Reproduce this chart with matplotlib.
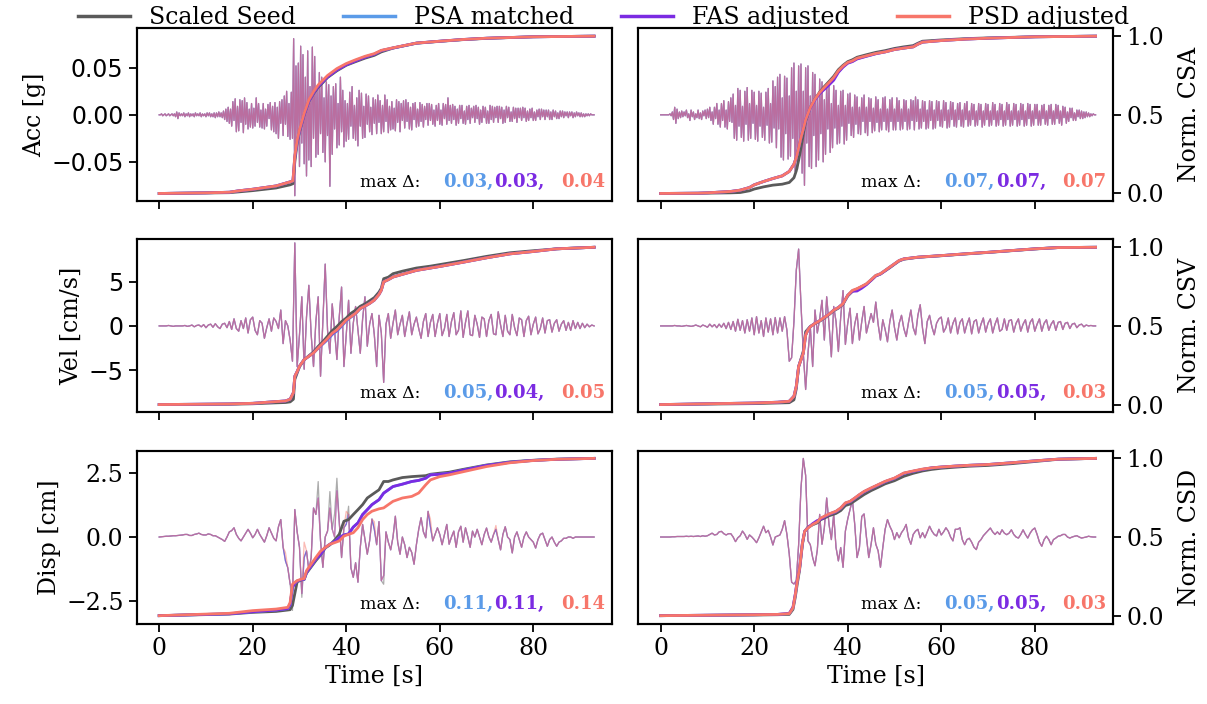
# -*- coding: utf-8 -*-
# Scaled seed vs. matched records: time histories with normalised cumulative curves
import matplotlib.pyplot as plt
import numpy as np
from matplotlib.lines import Line2D

plt.rcParams['font.family'] = 'DejaVu Serif'
plt.rcParams['font.size'] = 17

# ---------------------------------------------------------
# series / colours
# ---------------------------------------------------------
series = ["Scaled Seed", "PSA matched", "FAS adjusted", "PSD adjusted"]
colors = ["#5a5a5a", "#5b9be8", "#7b2be2", "#f7766a"]
T_END = 93.0

# ---------------------------------------------------------
# time histories (uniform sampling 0..93 s)
# acceleration in mg, 0.25 s step
# ---------------------------------------------------------
acc_left = [
    0, 0, 1, -1, 0, 1, -1, 0, 1, -1, 0, 1, -1, 1, -2, 3, -4, 2, -1, 1,
    -1, 2, -2, 1, -1, 2, -2, 1, -1, 1, -2, 2, -1, 1, -1, 2, -2, 1, -1, 1,
    -2, 2, -1, 2, -2, 1, -2, 2, -3, 2, -2, 3, -2, 2, -3, 4, -5, 6, -7, 8,
    -9, 6, -12, 14, -6, 17, -18, 9, -17, 16, -8, 15, -19, 18, -10, 13, -15, 6, -13, 12,
    -14, 7, -12, 18, -8, 12, -13, 5, -14, 12, -15, 6, -12, 11, -4, 13, -16, 9, -18, 13,
    -20, 8, -25, 14, -9, 16, -22, 20, -10, 25, -23, 12, -26, 24, -25, 81, -86, 52, -30, 55,
    -55, 73, -30, 64, -52, 40, -65, 68, -48, 30, -55, 72, -25, 62, -45, 30, -42, 45, -20, 40,
    -40, 18, -50, 35, -22, 32, -76, 20, -42, 30, -15, 33, -35, 12, -32, 40, -18, 26, -34, 15,
    -28, 12, -26, 24, -12, 30, -25, 10, -27, 18, -33, 26, -12, 23, -25, 9, -24, 22, -10, 20,
    -18, 8, -21, 18, -9, 16, -20, 21, -8, 15, -20, 10, -18, 21, -7, 16, -19, 9, -16, 14,
    -15, 7, -17, 16, -8, 14, -18, 12, -6, 15, -14, 16, -7, 13, -15, 8, -16, 12, -5, 13,
    -13, 6, -12, 13, -7, 11, -13, 9, -5, 12, -11, 12, -6, 11, -10, 5, -12, 10, -6, 12,
    -10, 5, -11, 12, -4, 11, -10, 18, -6, 10, -9, 11, -5, 9, -11, 6, -9, 10, -4, 10,
    -9, 4, -10, 9, -5, 10, -9, 7, -3, 9, -8, 10, -4, 8, -10, 5, -8, 9, -3, 8,
    -9, 4, -9, 10, -5, 9, -8, 8, -3, 9, -8, 9, -4, 8, -9, 5, -8, 9, -3, 8,
    -7, 3, -7, 8, -4, 7, -8, 7, -3, 7, -6, 8, -3, 7, -7, 4, -6, 6, -3, 7,
    -6, 3, -6, 5, -2, 6, -5, 6, -2, 5, -5, 5, -2, 5, -5, 3, -5, 5, -2, 4,
    -4, 2, -4, 4, -2, 4, -3, 3, -1, 3, -3, 3, -1, 3, -3, 2, -2, 3, -1, 2,
    -2, 2, -2, 1, -2, 1, -1, 1, -1, 1, 0, 0, 0,
]
acc_right = [
    0, 0, 0, 0, 0, 0, 0, 0, 1, -1, 3, -5, 8, -9, 6, -4, 3, -3, 4, -2,
    3, -1, 5, -3, 1, -6, 5, -2, 3, -5, 1, -3, 5, -4, 2, -5, 4, -1, 5, -4,
    6, -3, 8, -6, 3, -10, 8, -4, 12, -10, 5, -13, 12, -6, 15, -13, 5, -15, 14, -7,
    18, -8, 22, -25, 10, -27, 28, -12, 26, -24, 9, -28, 25, -10, 29, -27, 12, -25, 26, -9,
    24, -26, 10, -28, 25, -12, 23, -24, 8, -27, 24, -11, 28, -30, 12, -29, 36, -14, 30, -35,
    40, -15, 43, -45, 18, -48, 41, -20, 39, -47, 20, -44, 50, -25, 55, -60, 25, -58, 52, -30,
    54, -62, 25, -75, 50, -30, 52, -55, 20, -57, 45, -22, 43, -55, 18, -48, 38, -20, 35, -50,
    16, -42, 33, -15, 30, -40, 12, -35, 31, -14, 26, -31, 10, -30, 25, -12, 26, -31, 10, -27,
    22, -9, 23, -22, 8, -24, 21, -10, 19, -20, 8, -21, 18, -7, 21, -19, 8, -22, 18, -7,
    17, -19, 7, -17, 19, -8, 16, -18, 6, -16, 18, -7, 19, -16, 6, -18, 16, -7, 18, -16,
    6, -16, 18, -7, 15, -16, 6, -15, 16, -7, 15, -16, 6, -15, 16, -6, 15, -16, 19, -7,
    16, -15, 6, -14, 15, -7, 14, -15, 5, -14, 15, -6, 14, -15, 5, -14, 15, -6, 14, -12,
    5, -13, 15, -6, 13, -14, 5, -13, 14, -5, 13, -12, 5, -13, 12, -5, 13, -12, 5, -13,
    12, -5, 14, -12, 4, -11, 12, -5, 11, -12, 4, -11, 12, -5, 11, -13, 4, -11, 12, -5,
    11, -12, 4, -11, 13, -5, 11, -12, 4, -11, 12, -5, 11, -12, 4, -11, 13, -5, 11, -12,
    4, -11, 12, -5, 11, -12, 4, -11, 12, -5, 11, -12, 4, -11, 12, -4, 11, -12, 4, -11,
    11, -4, 11, -11, 4, -11, 10, -4, 11, -10, 4, -11, 10, -4, 11, -10, 4, -10, 11, -4,
    10, -9, 4, -11, 9, -3, 8, -9, 3, -7, 7, -3, 7, -6, 2, -6, 5, -2, 5, -4,
    4, -4, 3, -3, 3, -2, 2, -2, 1, -1, 1, 0, 0,
]

# velocity in cm/s, 0.5 s step
vel_left = [
    0, 0, 0, 0, 0.05, 0, -0.05, 0, 0, 0,
    0, 0.05, -0.05, 0, 0.1, -0.1, 0.05, 0.1, -0.1, 0.15,
    -0.2, 0.1, 0.2, -0.15, 0.25, -0.1, -0.3, 0.2, 0.3, -0.2,
    0.5, -0.4, 0.8, -0.3, -0.6, 0.6, -0.3, 0.9, -0.8, 0.7,
    1.0, -0.5, -1.0, 0.6, 0.3, -1.4, -0.2, 0.8, -0.6, 0.9,
    0.5, -0.3, 1.8, -2.0, 0.6, 0.0, -1.6, -4.0, 9.4, -4.6,
    -1.0, 3.3, -4.9, 1.0, 4.6, -1.0, -4.6, 0.5, 3.3, -5.7,
    0.5, 7.0, -0.5, -3.1, 2.5, -0.5, -3.8, 1.0, 4.4, -4.6,
    -1.0, 2.9, -3.1, 0.3, 2.2, -0.5, -3.1, 0.8, 3.3, -2.3,
    0.2, 1.4, -1.0, -4.6, 1.2, -0.8, -6.4, 0.2, 1.4, -1.4,
    0.3, 1.8, -1.0, 0.2, 1.2, -1.2, 0.3, 1.6, -1.0, 0.2,
    1.0, -0.3, -1.4, 0.5, 1.4, -1.2, 0.4, 1.3, -1.2, 0.3,
    1.4, -1.1, -0.3, 1.3, -1.2, 0.5, 1.5, -1.0, -0.5, 1.7,
    -1.3, 0.4, 1.7, -1.0, -1.1, 1.2, 0.2, -1.3, 1.0, 0.8,
    -1.2, 0.6, 1.3, -0.9, -1.0, 1.6, 0.1, -1.2, 1.2, -0.6,
    -1.0, 1.3, -0.2, -1.1, 0.9, 0.7, -1.2, 0.6, 1.1, -1.0,
    0.2, 1.0, -0.9, -0.3, 0.9, -0.8, 0.6, 0.7, -0.7, 0.3,
    0.7, -0.6, 0.2, 0.6, -0.5, 0.4, -0.5, 0.6, -0.3, 0.4,
    -0.3, 0.3, -0.2, 0.2, -0.1, 0.1, 0.0,
]
vel_right = [
    0, 0, 0, 0, 0, 0, 0.05, 0, 0, -0.05,
    0, 0.05, 0, -0.05, 0, 0.1, 0, -0.1, 0.1, 0,
    -0.15, 0.2, -0.1, 0.15, -0.2, 0.2, -0.15, 0.3, -0.3, 0.4,
    -0.4, 0.5, -0.6, 0.75, -0.5, 0.6, -0.8, 0.7, -0.6, 0.9,
    -1.0, 1.05, -0.8, 0.6, -1.2, 0.9, -0.7, 0.8, -1.0, 0.95,
    -0.8, 0.9, -0.6, 1.05, -0.5, -4.0, -3.6, 0.5, 6.3, 8.7,
    2.5, -3.1, -7.2, -3.1, -0.1, -4.6, 1.8, -0.8, 0.8, 2.9,
    -1.6, 3.3, 0.2, -3.5, 2.2, 0.5, -2.9, 1.0, 4.0, -2.1,
    0.3, 2.0, -2.0, 0.2, 1.4, -1.6, 0.5, 2.2, -0.8, 0.3,
    1.4, 0.4, 2.7, 0.2, -1.6, 0.7, -0.4, -1.8, 0.5, 1.8,
    -0.2, -1.6, 0.3, 1.2, -0.3, -1.2, 0.4, 1.8, -0.2, -1.0,
    1.2, 2.4, -0.3, -2.0, 0.5, 1.2, -0.1, -1.0, 0.3, 0.8,
    1.0, -0.7, -0.2, 0.9, -0.8, 0.3, 0.9, -0.9, 0.4, 0.8,
    -0.8, 0.2, 0.9, -0.9, 0.5, 0.7, -0.8, 0.2, 0.9, -0.7,
    0.3, 0.8, -0.8, 0.2, 0.9, -0.6, -0.4, 0.8, -0.5, 0.6,
    0.7, -0.7, 0.3, 0.8, -0.6, 0.2, 0.7, -0.7, 0.4, 0.8,
    -0.6, 0.2, 0.8, -0.6, 0.3, 0.7, -0.5, 0.2, 0.6, -0.5,
    0.4, 0.5, -0.4, 0.3, 0.4, -0.3, 0.2, 0.3, -0.2, 0.1,
    0.2, -0.1, 0.1, 0.0, 0.05, 0.0, 0.0,
]

# displacement in cm, 0.5 s step
disp_left = [
    0, 0.01, 0.02, 0.03, 0.03, 0.04, 0.05, 0.05, 0.06, 0.07,
    0.08, 0.1, 0.1, 0.06, 0.06, 0.1, 0.12, 0.15, 0.1, 0.08,
    0.08, 0.12, 0.1, 0.05, 0.05, 0.0, -0.05, -0.1, -0.17, 0.0,
    0.2, 0.25, 0.36, 0.1, -0.05, -0.15, 0.0, 0.15, 0.3, 0.15,
    -0.03, 0.1, 0.3, 0.1, -0.05, -0.2, 0.05, 0.36, 0.15, -0.05,
    -0.15, 0.4, 0.68, -0.4, -0.93, -1.2, -1.83, -2.1, 1.07, 0.2,
    -0.4, -2.2, -0.8, -0.54, -1.3, -0.8, 1.13, 0.88, 1.52, -0.15,
    -1.18, 0.0, 0.23, 1.13, 0.3, 0.0, 1.8, 0.6, -0.8, 0.36,
    0.5, 0.88, -1.2, -1.57, -1.0, -1.76, -0.4, 0.49, -0.1, -0.67,
    -0.15, 0.7, 0.3, -0.3, 0.6, -1.7, -1.5, 0.2, -0.2, -0.5,
    0.0, 0.81, -0.2, -0.67, 0.0, -0.3, -0.8, -0.4, -0.6, -1.06,
    -0.3, 0.3, 0.75, 0.2, -0.03, 1.0, 0.4, -0.15, 0.1, 0.36,
    0.1, -0.3, 0.1, 0.49, -0.28, 0.0, 0.23, -0.4, 0.2, 0.42,
    -0.2, 0.36, 0.0, -0.4, 0.23, 0.0, 0.3, 0.0, -0.3, 0.1,
    0.35, 0.0, -0.2, 0.1, 0.3, -0.1, -0.5, 0.1, 0.4, 0.0,
    -0.1, -0.62, 0.0, 0.2, -0.1, -0.4, 0.0, 0.2, 0.0, -0.1,
    -0.2, -0.43, -0.1, 0.1, 0.15, -0.1, -0.36, -0.1, 0.0, -0.2,
    -0.36, -0.2, -0.15, -0.05, -0.05, 0.0, 0.0, -0.05, 0.0, 0.0,
    0.0, 0.0, 0.0, 0.0, 0.0, 0.0, 0.0,
]
# where the individual records part from the common trace (time s: value cm)
disp_left_seed_peaks = {28.5: -2.86, 30.5: -2.35, 34.0: 2.16, 36.5: 1.77,
                        37.5: 0.9, 38.0: 2.29, 40.5: 1.2, 48.0: -1.84}
disp_left_psd_peaks = {27.0: -0.6, 31.0: -0.2, 40.0: 1.0, 46.0: 0.6,
                       58.0: 0.7, 72.0: 0.45}
disp_right = [
    0, 0, 0, 0, 0, 0.01, 0.01, 0.02, 0.02, 0.02,
    0.02, 0.03, 0.02, 0.03, 0.02, 0.03, 0.04, 0.02, 0.05, 0.03,
    0.05, 0.1, 0.15, 0.08, 0.1, 0.2, 0.22, 0.13, 0.08, 0.13,
    0.13, 0.0, -0.18, -0.03, 0.05, 0.23, 0.1, -0.09, 0.08, 0.0,
    -0.1, -0.22, -0.03, 0.2, 0.42, 0.17, 0.26, 0.0, -0.31, 0.0,
    0.04, 0.08, 0.3, 0.64, 0.1, -0.67, -1.76, -1.83, -1.7, -0.3,
    1.9, 3.06, 2.4, -0.15, -0.3, -0.8, -1.12, -0.5, 0.88, -0.28,
    0.36, 1.52, 0.49, -0.1, 0.88, -0.41, -0.93, -0.41, -1.18, 0.23,
    0.7, 1.07, 1.45, 0.49, -0.8, -0.41, 0.8, 0.9, 0.0, -0.8,
    -0.28, 0.36, -0.28, -0.54, -1.18, -0.41, 0.3, 0.68, 0.42, 0.23,
    -0.1, 0.17, -0.03, 0.17, 0.3, 0.49, -0.03, -0.28, 0.1, 0.23,
    0.3, -0.03, 0.17, -0.03, 0.2, 0.42, 0.23, 0.1, 0.04, 0.3,
    0.08, 0.2, 0.36, 0.23, 0.0, -0.15, 0.3, 0.3, 0.36, -0.1,
    -0.3, -0.1, -0.05, -0.2, -0.4, -0.49, -0.2, -0.1, 0.05, 0.15,
    0.25, 0.35, 0.2, 0.1, 0.2, 0.1, 0.28, 0.15, 0.09, 0.15,
    0.28, 0.1, 0.0, -0.04, 0.1, 0.28, 0.1, -0.04, 0.15, 0.28,
    0.35, 0.1, -0.2, -0.36, -0.1, 0.03, -0.1, -0.3, -0.1, -0.04,
    0.03, 0.05, 0.1, 0.1, 0.0, -0.04, 0.0, 0.03, 0.05, 0.0,
    -0.04, -0.02, 0.0, 0.03, 0.01, 0.0, 0.0,
]

# ---------------------------------------------------------
# normalised cumulative curves (knot times + values per record)
# ---------------------------------------------------------
csa_l_t = [0, 10, 15, 17, 20, 25, 28, 28.6, 29, 29.5, 30, 31, 32, 33, 34, 35, 36, 38, 40, 42,
           44, 46, 47.5, 50, 55, 60, 65, 70, 80, 93]
csa_l_seed = [0, 0.003, 0.005, 0.01, 0.018, 0.035, 0.055, 0.062, 0.2, 0.32, 0.39, 0.5, 0.585, 0.635,
              0.675, 0.705, 0.737, 0.78, 0.815, 0.838, 0.86, 0.878, 0.9, 0.924, 0.955, 0.967, 0.978,
              0.986, 0.996, 1.0]
csa_l_psa = [0, 0.004, 0.008, 0.017, 0.027, 0.048, 0.074, 0.08, 0.235, 0.335, 0.4, 0.505, 0.59, 0.642,
             0.684, 0.714, 0.744, 0.787, 0.82, 0.845, 0.868, 0.886, 0.908, 0.925, 0.956, 0.968, 0.979,
             0.987, 0.996, 1.0]
csa_l_fas = [0, 0.004, 0.008, 0.017, 0.027, 0.048, 0.074, 0.08, 0.23, 0.33, 0.398, 0.503, 0.588, 0.64,
             0.681, 0.711, 0.741, 0.785, 0.818, 0.843, 0.866, 0.885, 0.908, 0.925, 0.956, 0.968, 0.979,
             0.987, 0.996, 1.0]
csa_l_psd = [0, 0.004, 0.008, 0.017, 0.027, 0.048, 0.074, 0.08, 0.24, 0.34, 0.405, 0.51, 0.595, 0.647,
             0.69, 0.72, 0.75, 0.794, 0.826, 0.85, 0.872, 0.889, 0.91, 0.926, 0.956, 0.968, 0.979,
             0.987, 0.996, 1.0]

csa_r_t = [0, 8, 10, 15, 17, 19, 20, 22, 24, 26, 27.5, 28.5, 29, 29.5, 30, 30.5, 31, 32, 33, 34,
           35, 36, 37, 38, 39, 40, 41, 42, 44, 46, 48, 50, 52, 54, 55, 56, 60, 65, 70, 80, 93]
csa_r_seed = [0, 0.001, 0.002, 0.004, 0.006, 0.017, 0.028, 0.042, 0.053, 0.059, 0.07, 0.10, 0.144,
              0.21, 0.29, 0.377, 0.46, 0.547, 0.6, 0.645, 0.68, 0.712, 0.745, 0.787, 0.815, 0.838,
              0.85, 0.866, 0.882, 0.897, 0.908, 0.922, 0.932, 0.94, 0.955, 0.968, 0.976, 0.984,
              0.989, 0.996, 1.0]
csa_r_psa = [0, 0.002, 0.004, 0.013, 0.021, 0.038, 0.055, 0.076, 0.095, 0.112, 0.14, 0.186, 0.229,
             0.29, 0.356, 0.41, 0.47, 0.545, 0.597, 0.638, 0.668, 0.698, 0.73, 0.775, 0.806, 0.83,
             0.84, 0.857, 0.873, 0.889, 0.9, 0.915, 0.924, 0.932, 0.949, 0.962, 0.972, 0.981,
             0.987, 0.996, 1.0]
csa_r_fas = [0, 0.002, 0.004, 0.013, 0.021, 0.038, 0.055, 0.076, 0.095, 0.112, 0.14, 0.186, 0.229,
             0.29, 0.356, 0.41, 0.47, 0.545, 0.595, 0.635, 0.662, 0.69, 0.72, 0.77, 0.803, 0.828,
             0.838, 0.855, 0.872, 0.888, 0.9, 0.915, 0.924, 0.932, 0.949, 0.962, 0.972, 0.981,
             0.987, 0.996, 1.0]
csa_r_psd = [0, 0.002, 0.004, 0.013, 0.021, 0.038, 0.055, 0.076, 0.095, 0.112, 0.14, 0.186, 0.229,
             0.29, 0.356, 0.41, 0.47, 0.547, 0.6, 0.642, 0.674, 0.705, 0.737, 0.78, 0.81, 0.833,
             0.843, 0.86, 0.875, 0.89, 0.9, 0.915, 0.924, 0.932, 0.949, 0.962, 0.972, 0.981,
             0.987, 0.996, 1.0]

csv_l_t = [0, 15, 20, 25, 27, 28, 28.7, 29, 29.5, 30, 31, 32, 33, 34, 35, 36, 37, 38, 39, 40,
           41, 42, 43, 44, 45, 46, 47, 47.5, 48, 49, 50, 52, 55, 58, 60, 65, 70, 75, 80, 85, 93]
csv_l_seed = [0, 0.002, 0.005, 0.011, 0.013, 0.017, 0.034, 0.16, 0.2, 0.24, 0.285, 0.31, 0.335, 0.37,
              0.4, 0.435, 0.47, 0.496, 0.527, 0.55, 0.58, 0.6, 0.625, 0.64, 0.66, 0.68, 0.715, 0.74,
              0.80, 0.81, 0.832, 0.848, 0.868, 0.88, 0.89, 0.915, 0.942, 0.965, 0.978, 0.99, 1.0]
csv_l_psa = [0, 0.004, 0.008, 0.019, 0.023, 0.034, 0.076, 0.18, 0.21, 0.244, 0.286, 0.307, 0.328,
             0.358, 0.385, 0.412, 0.445, 0.467, 0.498, 0.532, 0.556, 0.578, 0.61, 0.625, 0.643,
             0.664, 0.70, 0.727, 0.78, 0.794, 0.811, 0.828, 0.853, 0.868, 0.878, 0.905, 0.933,
             0.958, 0.973, 0.99, 1.0]
csv_l_fas = [0, 0.004, 0.008, 0.019, 0.023, 0.034, 0.076, 0.18, 0.21, 0.244, 0.286, 0.307, 0.328,
             0.36, 0.388, 0.417, 0.45, 0.472, 0.503, 0.536, 0.558, 0.58, 0.611, 0.626, 0.643,
             0.664, 0.70, 0.727, 0.78, 0.794, 0.811, 0.828, 0.853, 0.868, 0.878, 0.905, 0.933,
             0.958, 0.973, 0.99, 1.0]
csv_l_psd = [0, 0.004, 0.008, 0.019, 0.023, 0.034, 0.076, 0.18, 0.21, 0.244, 0.286, 0.307, 0.328,
             0.36, 0.39, 0.42, 0.454, 0.475, 0.506, 0.538, 0.559, 0.58, 0.611, 0.626, 0.643,
             0.664, 0.70, 0.727, 0.78, 0.794, 0.811, 0.828, 0.853, 0.868, 0.878, 0.905, 0.933,
             0.958, 0.973, 0.99, 1.0]

csv_r_t = [0, 20, 25, 27.5, 28.5, 29, 29.5, 30, 30.5, 31, 31.5, 32, 33, 34, 35, 36, 37, 38, 39, 40,
           41, 42, 43, 44, 45, 46, 47, 48, 49, 50, 51, 52, 55, 60, 65, 70, 75, 80, 85, 93]
csv_r_seed = [0, 0.006, 0.01, 0.012, 0.03, 0.1, 0.24, 0.29, 0.34, 0.463, 0.48, 0.497, 0.515, 0.53,
              0.55, 0.572, 0.596, 0.613, 0.638, 0.69, 0.72, 0.735, 0.75, 0.766, 0.79, 0.818, 0.83,
              0.85, 0.87, 0.892, 0.913, 0.924, 0.936, 0.946, 0.957, 0.967, 0.978, 0.989, 0.998, 1.0]
csv_r_psa = [0, 0.01, 0.015, 0.021, 0.053, 0.116, 0.242, 0.284, 0.326, 0.442, 0.474, 0.495, 0.516,
             0.533, 0.554, 0.575, 0.60, 0.617, 0.642, 0.695, 0.724, 0.733, 0.748, 0.766, 0.794,
             0.821, 0.832, 0.853, 0.874, 0.895, 0.916, 0.926, 0.937, 0.947, 0.958, 0.968, 0.979,
             0.99, 0.998, 1.0]
csv_r_fas = [0, 0.01, 0.015, 0.021, 0.053, 0.116, 0.242, 0.284, 0.326, 0.442, 0.474, 0.495, 0.516,
             0.533, 0.554, 0.575, 0.60, 0.617, 0.642, 0.695, 0.72, 0.722, 0.74, 0.762, 0.79,
             0.818, 0.83, 0.851, 0.873, 0.894, 0.915, 0.926, 0.937, 0.947, 0.958, 0.968, 0.979,
             0.99, 0.998, 1.0]
csv_r_psd = [0, 0.01, 0.015, 0.021, 0.053, 0.116, 0.242, 0.284, 0.326, 0.442, 0.474, 0.495, 0.516,
             0.533, 0.554, 0.575, 0.60, 0.617, 0.642, 0.695, 0.726, 0.737, 0.752, 0.768, 0.794,
             0.821, 0.832, 0.853, 0.874, 0.895, 0.916, 0.926, 0.937, 0.947, 0.958, 0.968, 0.979,
             0.99, 0.998, 1.0]

csd_l_t = [0, 15, 20, 25, 27.5, 28, 28.5, 29, 29.5, 30.5, 31, 31.5, 32.5, 33.5, 34.5, 35.5, 36.5,
           37.5, 38.5, 39.5, 40.5, 41.5, 42.5, 43.5, 44.5, 45.5, 47, 48, 49, 50, 52, 54, 55.5, 57,
           58, 60, 62, 65, 70, 75, 80, 85, 93]
csd_l_seed = [0, 0.01, 0.021, 0.027, 0.036, 0.038, 0.065, 0.14, 0.215, 0.228, 0.23, 0.27, 0.31,
              0.35, 0.385, 0.43, 0.45, 0.48, 0.517, 0.60, 0.611, 0.643, 0.674, 0.706, 0.748, 0.769,
              0.80, 0.853, 0.853, 0.863, 0.878, 0.884, 0.887, 0.89, 0.899, 0.906, 0.912, 0.93,
              0.958, 0.978, 0.988, 0.995, 1.0]
csd_l_psa = [0, 0.012, 0.025, 0.036, 0.045, 0.07, 0.18, 0.205, 0.22, 0.23, 0.232, 0.276, 0.317,
             0.36, 0.39, 0.433, 0.454, 0.47, 0.496, 0.513, 0.52, 0.563, 0.59, 0.643, 0.674, 0.706,
             0.737, 0.779, 0.8, 0.821, 0.836, 0.853, 0.86, 0.874, 0.895, 0.899, 0.905, 0.925,
             0.955, 0.975, 0.987, 0.994, 1.0]
csd_l_fas = list(csd_l_psa)
csd_l_psd = [0, 0.015, 0.032, 0.042, 0.053, 0.084, 0.2, 0.212, 0.223, 0.233, 0.236, 0.286, 0.328,
             0.37, 0.41, 0.433, 0.454, 0.464, 0.475, 0.506, 0.517, 0.527, 0.559, 0.611, 0.643,
             0.664, 0.679, 0.685, 0.706, 0.727, 0.748, 0.758, 0.78, 0.832, 0.863, 0.884, 0.895,
             0.915, 0.948, 0.972, 0.986, 0.994, 1.0]

csd_r_t = [0, 20, 25, 27.5, 28.3, 28.8, 29.2, 29.7, 30.3, 30.8, 31.5, 32.5, 33.5, 34.2, 35, 36,
           37.5, 38.5, 39.5, 40.5, 41.5, 42.5, 43.5, 45, 46.5, 48, 50, 52, 54, 56, 58, 60, 63, 66,
           70, 75, 80, 85, 93]
csd_r_seed = [0, 0.004, 0.006, 0.008, 0.04, 0.12, 0.2, 0.29, 0.45, 0.535, 0.563, 0.578, 0.59, 0.61,
              0.62, 0.635, 0.65, 0.668, 0.7, 0.71, 0.73, 0.75, 0.77, 0.795, 0.816, 0.838, 0.858,
              0.886, 0.905, 0.92, 0.93, 0.937, 0.944, 0.95, 0.955, 0.966, 0.98, 0.994, 1.0]
csd_r_psa = [0, 0.006, 0.008, 0.013, 0.05, 0.135, 0.22, 0.3, 0.46, 0.537, 0.558, 0.58, 0.598, 0.618,
             0.63, 0.645, 0.662, 0.683, 0.715, 0.725, 0.746, 0.768, 0.788, 0.81, 0.831, 0.852,
             0.873, 0.905, 0.918, 0.93, 0.94, 0.945, 0.951, 0.956, 0.961, 0.972, 0.984, 0.995, 1.0]
csd_r_fas = [0, 0.006, 0.008, 0.015, 0.055, 0.14, 0.225, 0.3, 0.46, 0.537, 0.56, 0.585, 0.605, 0.612,
             0.628, 0.645, 0.662, 0.683, 0.715, 0.725, 0.746, 0.768, 0.788, 0.81, 0.831, 0.852,
             0.873, 0.905, 0.918, 0.93, 0.94, 0.945, 0.951, 0.956, 0.961, 0.972, 0.984, 0.995, 1.0]
csd_r_psd = [0, 0.006, 0.008, 0.013, 0.05, 0.135, 0.22, 0.3, 0.46, 0.537, 0.558, 0.58, 0.596, 0.62,
             0.632, 0.647, 0.664, 0.685, 0.717, 0.727, 0.748, 0.77, 0.79, 0.812, 0.833, 0.854,
             0.875, 0.907, 0.92, 0.932, 0.94, 0.945, 0.951, 0.956, 0.961, 0.972, 0.984, 0.995, 1.0]

# max deviation of the normalised cumulative curves from the seed
max_delta = {
    (0, 0): [0.03, 0.03, 0.04], (0, 1): [0.07, 0.07, 0.07],
    (1, 0): [0.05, 0.04, 0.05], (1, 1): [0.05, 0.05, 0.03],
    (2, 0): [0.11, 0.11, 0.14], (2, 1): [0.05, 0.05, 0.03],
}

row_labels = ["Acc [g]", "Vel [cm/s]", "Disp [cm]"]
cum_labels = ["Norm. CSA", "Norm. CSV", "Norm. CSD"]
row_ticks = [[-0.05, 0.0, 0.05], [-5, 0, 5], [-2.5, 0.0, 2.5]]
row_lims = [0.092, 9.8, 3.37]


def with_peaks(base, peaks):
    out = np.array(base, dtype=float)
    tt = np.linspace(0, T_END, len(out))
    for tk, v in peaks.items():
        out[np.argmin(np.abs(tt - tk))] = v
    return out


acc_l = np.array(acc_left) * 1e-3
acc_r = np.array(acc_right) * 1e-3
records = {
    (0, 0): [acc_l] * 4,
    (0, 1): [acc_r] * 4,
    (1, 0): [np.array(vel_left)] * 4,
    (1, 1): [np.array(vel_right)] * 4,
    (2, 0): [with_peaks(disp_left, disp_left_seed_peaks), np.array(disp_left),
             np.array(disp_left), with_peaks(disp_left, disp_left_psd_peaks)],
    (2, 1): [np.array(disp_right)] * 4,
}
cumulative = {
    (0, 0): (csa_l_t, [csa_l_seed, csa_l_psa, csa_l_fas, csa_l_psd]),
    (0, 1): (csa_r_t, [csa_r_seed, csa_r_psa, csa_r_fas, csa_r_psd]),
    (1, 0): (csv_l_t, [csv_l_seed, csv_l_psa, csv_l_fas, csv_l_psd]),
    (1, 1): (csv_r_t, [csv_r_seed, csv_r_psa, csv_r_fas, csv_r_psd]),
    (2, 0): (csd_l_t, [csd_l_seed, csd_l_psa, csd_l_fas, csd_l_psd]),
    (2, 1): (csd_r_t, [csd_r_seed, csd_r_psa, csd_r_fas, csd_r_psd]),
}

fig, axes = plt.subplots(3, 2, figsize=(12.07, 7.04), dpi=100, sharex=True, sharey='row')
fig.subplots_adjust(left=0.1133, right=0.9224, top=0.9598, bottom=0.1143,
                    wspace=0.0555, hspace=0.22)

for r in range(3):
    for c in range(2):
        ax = axes[r, c]
        for sig, col in zip(records[(r, c)], colors):
            tt = np.linspace(0, T_END, len(sig))
            ax.plot(tt, sig, color=col, lw=0.9, alpha=0.5)
        ax.set_ylim(-row_lims[r], row_lims[r])
        ax.set_yticks(row_ticks[r])
        ax.set_xlim(-4.8, 96.8)
        ax.set_xticks([0, 20, 40, 60, 80])
        ax.tick_params(length=6, width=1.3, labelsize=17)

        tw = ax.twinx()
        tc, curves = cumulative[(r, c)]
        for cv, col in zip(curves, colors):
            tw.plot(tc, cv, color=col, lw=2.0)
        tw.set_ylim(-0.05, 1.05)
        tw.tick_params(length=6, width=1.3, labelsize=17)
        if c == 0:
            tw.set_yticks([])
            ax.set_ylabel(row_labels[r], fontsize=17)
            if r < 2:
                ax.tick_params(axis='y', labelfontfamily='DejaVu Sans')
        else:
            tw.set_yticks([0.0, 0.5, 1.0])
            tw.set_ylabel(cum_labels[r], fontsize=17, labelpad=10)
            ax.tick_params(axis='y', left=False, labelleft=False)
        for sp in list(ax.spines.values()) + list(tw.spines.values()):
            sp.set_linewidth(1.5)

        # max delta annotation
        ax.text(0.469, 0.084, "max Δ:", transform=ax.transAxes, fontsize=12.5,
                ha='left', va='baseline', zorder=5)
        xs = [0.644, 0.753, 0.893]
        vals = max_delta[(r, c)]
        for i, (xv, v, col) in enumerate(zip(xs, vals, colors[1:])):
            txt = f"{v:.2f}," if i < 2 else f"{v:.2f}"
            tw.text(xv, 0.084, txt, transform=ax.transAxes, fontsize=13,
                    fontweight='bold', color=col, ha='left', va='baseline')

for c in range(2):
    axes[2, c].set_xlabel("Time [s]", fontsize=17)

handles = [Line2D([], [], color=col, lw=2.5) for col in colors]
fig.legend(handles, series, loc='upper center', bbox_to_anchor=(0.5, 0.998), ncol=4,
           frameon=False, fontsize=17, borderaxespad=0, borderpad=0.2,
           handlelength=2.2, columnspacing=2.0)

fig.savefig("out.png", dpi=100)
